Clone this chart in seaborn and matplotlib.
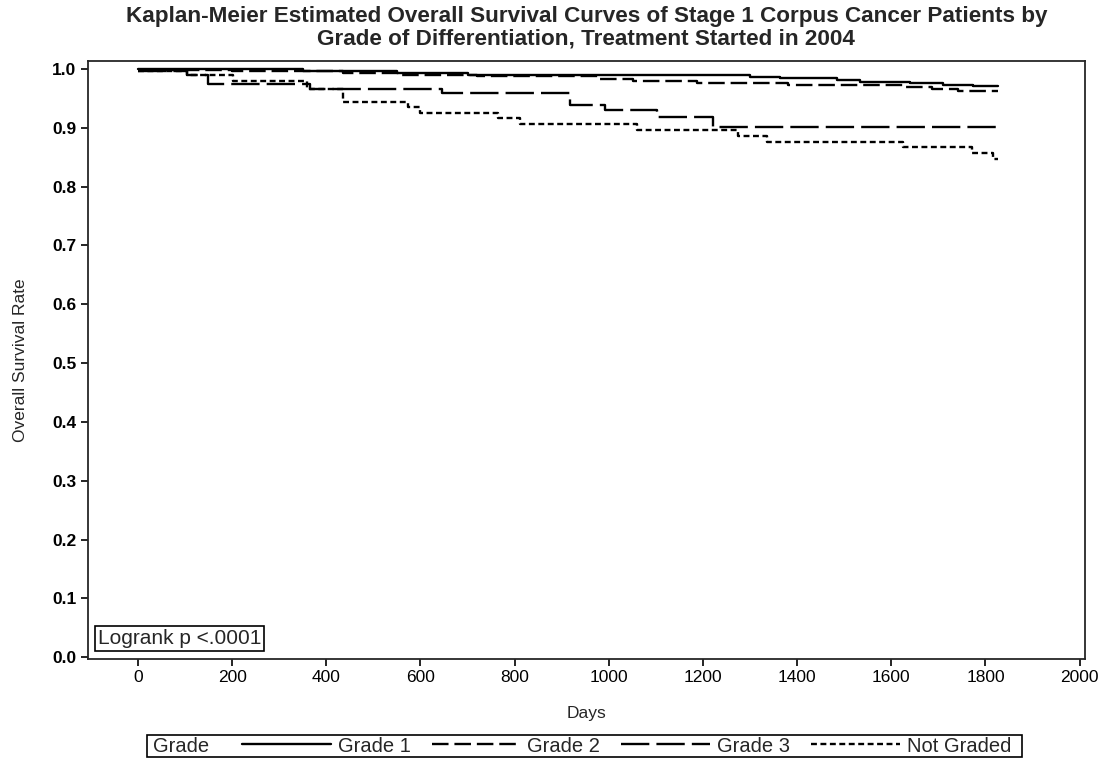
import pandas as pd
import matplotlib
matplotlib.use('Agg')
import matplotlib.pyplot as plt
import seaborn as sns
from matplotlib.lines import Line2D
from matplotlib.patches import Rectangle

# Kaplan-Meier step points (day, survival)
g1_days = [0, 350, 550, 700, 900, 1300, 1363, 1484, 1533, 1639, 1710, 1773, 1826]
g1_surv = [1.0, 0.996, 0.993, 0.990, 0.989, 0.986, 0.984, 0.981, 0.978, 0.976, 0.973, 0.971, 0.971]

g2_days = [0, 200, 435, 556, 720, 981, 1051, 1187, 1380, 1624, 1686, 1741, 1826]
g2_surv = [0.998, 0.997, 0.993, 0.990, 0.988, 0.983, 0.980, 0.976, 0.972, 0.969, 0.966, 0.963, 0.963]

g3_days = [0, 104, 149, 365, 645, 917, 991, 1102, 1221, 1826]
g3_surv = [0.997, 0.989, 0.974, 0.966, 0.959, 0.939, 0.930, 0.918, 0.901, 0.901]

ng_days = [0, 104, 202, 359, 435, 573, 599, 764, 811, 1059, 1274, 1335, 1624, 1771, 1815, 1826]
ng_surv = [0.997, 0.989, 0.980, 0.966, 0.944, 0.935, 0.925, 0.917, 0.906, 0.896, 0.886, 0.876, 0.867,
           0.857, 0.847, 0.847]

groups = ['Grade 1', 'Grade 2', 'Grade 3', 'Not Graded']

frames = []
for name, d, s in zip(groups, [g1_days, g2_days, g3_days, ng_days], [g1_surv, g2_surv, g3_surv, ng_surv]):
    frames.append(pd.DataFrame({'day': d, 'surv': s, 'grade': name}))
df = pd.concat(frames, ignore_index=True)

dash_map = {'Grade 1': '', 'Grade 2': (7, 2.5), 'Grade 3': (12, 3), 'Not Graded': (2.5, 1.5)}

sns.set_style('ticks')
plt.rcParams['font.family'] = ['Liberation Sans', 'DejaVu Sans']

fig = plt.figure(figsize=(11.1, 7.6), dpi=100)
ax = fig.add_axes([0.0793, 0.1329, 0.898, 0.7868])

sns.lineplot(data=df, x='day', y='surv', style='grade', dashes=dash_map, color='black',
             drawstyle='steps-post', estimator=None, legend=False, linewidth=1.7, ax=ax)

ax.set_xlim(-106, 2011)
ax.set_ylim(-0.003, 1.0136)
ax.set_xticks(range(0, 2001, 200))
ax.set_yticks([i / 10 for i in range(11)])
ax.set_yticklabels([f'{i / 10:.1f}' for i in range(11)], fontweight='bold', fontsize=12.5)
for lab in ax.get_xticklabels():
    lab.set_fontsize(12.5)
for sp in ax.spines.values():
    sp.set_visible(True)
    sp.set_linewidth(1.3)
ax.tick_params(direction='out', length=5, width=1.2, colors='black')
ax.tick_params(axis='x', pad=3)

ax.set_xlabel('Days', fontsize=12.5, labelpad=15)
ax.set_ylabel('Overall Survival Rate', fontsize=12.5, labelpad=17)
ax.set_title('Kaplan-Meier Estimated Overall Survival Curves of Stage 1 Corpus Cancer Patients by\n'
             'Grade of Differentiation, Treatment Started in 2004',
             fontsize=16.2, fontweight='bold', pad=12, linespacing=1.1)

ax.text(-85, 0.032, 'Logrank p <.0001', fontsize=15, va='center', ha='left',
        bbox=dict(boxstyle='square,pad=0.15', fc='white', ec='black', lw=1.2))

# legend row at the bottom with inline "Grade" label
fig.patches.append(Rectangle((147 / 1110, 1 - 757 / 760), (1022 - 147) / 1110, 22 / 760,
                             transform=fig.transFigure, fill=False, ec='black', lw=1.2))
fig.text(153 / 1110, 1 - 747 / 760, 'Grade', fontsize=14.5, va='center', ha='left')
handles = [Line2D([], [], color='black', lw=1.7, linestyle='-')]
handles += [Line2D([], [], color='black', lw=1.7, dashes=dash_map[g]) for g in groups[1:]]
fig.legend(handles, groups, loc='center left', bbox_to_anchor=(242 / 1110, 1 - 746 / 760), ncol=4,
           frameon=False, handlelength=4.4, handletextpad=0.35, columnspacing=1.05, fontsize=14.5,
           borderpad=0, borderaxespad=0)

fig.savefig('out.png', dpi=100)
